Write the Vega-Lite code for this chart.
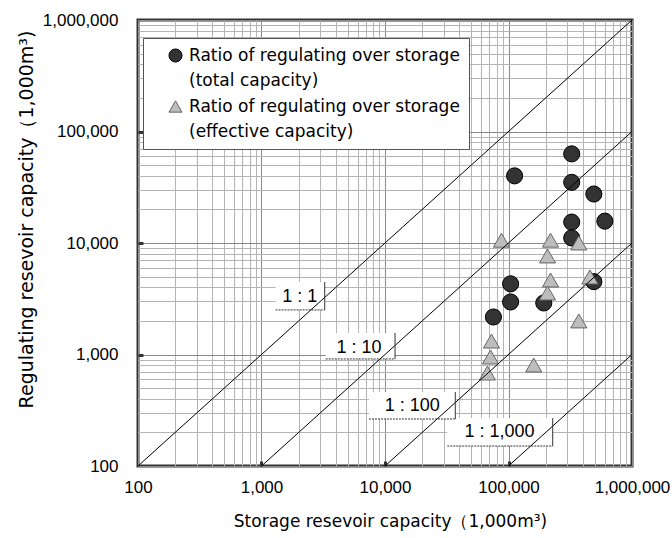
{
  "$schema": "https://vega.github.io/schema/vega-lite/v6.json",
  "width": 494,
  "height": 446,
  "autosize": {"type": "none"},
  "padding": {"left": 138, "top": 20, "right": 40, "bottom": 72},
  "background": "white",
  "config": {
    "view": {"stroke": "#333", "strokeWidth": 3},
    "style": {"guide-label": {"lineHeight": 25}},
    "axis": {
      "domain": false,
      "grid": true,
      "gridWidth": 1,
      "labelFont": "Liberation Sans",
      "labelFontSize": 17,
      "labelColor": "#000",
      "titleFont": "DejaVu Sans",
      "titleFontWeight": "normal",
      "titleColor": "#000",
      "labelOverlap": false,
      "labelFlush": false,
      "tickSize": -5,
      "tickWidth": 3,
      "tickColor": "#333"
    },
    "legend": {
      "orient": "none",
      "legendX": 5,
      "legendY": 18,
      "padding": 9,
      "fillColor": "white",
      "strokeColor": "#555",
      "symbolSize": 170,
      "symbolOffset": 15,
      "labelOffset": 5,
      "labelFont": "DejaVu Sans",
      "labelFontSize": 17,
      "labelColor": "#000",
      "labelLimit": 500,
      "rowPadding": 8,
      "symbolStrokeWidth": 1
    }
  },
  "datasets": {
    "points": [
      {"storage": 325000, "regulating": 63000, "series": "total"},
      {"storage": 112000, "regulating": 40000, "series": "total"},
      {"storage": 325000, "regulating": 35000, "series": "total"},
      {"storage": 491000, "regulating": 27500, "series": "total"},
      {"storage": 603000, "regulating": 15700, "series": "total"},
      {"storage": 325000, "regulating": 15400, "series": "total"},
      {"storage": 325000, "regulating": 11100, "series": "total"},
      {"storage": 491000, "regulating": 4500, "series": "total"},
      {"storage": 104000, "regulating": 4300, "series": "total"},
      {"storage": 104000, "regulating": 2960, "series": "total"},
      {"storage": 193000, "regulating": 2900, "series": "total"},
      {"storage": 75500, "regulating": 2170, "series": "total"},
      {"storage": 87700, "regulating": 10600, "series": "effective"},
      {"storage": 219000, "regulating": 10600, "series": "effective"},
      {"storage": 207000, "regulating": 7650, "series": "effective"},
      {"storage": 371000, "regulating": 10000, "series": "effective"},
      {"storage": 219000, "regulating": 4660, "series": "effective"},
      {"storage": 456000, "regulating": 4960, "series": "effective"},
      {"storage": 207000, "regulating": 3560, "series": "effective"},
      {"storage": 371000, "regulating": 2000, "series": "effective"},
      {"storage": 72800, "regulating": 1320, "series": "effective"},
      {"storage": 71500, "regulating": 950, "series": "effective"},
      {"storage": 67500, "regulating": 682, "series": "effective"},
      {"storage": 160000, "regulating": 805, "series": "effective"}
    ],
    "lines": [
      {"ratio": "1:1", "storage": 100, "regulating": 100},
      {"ratio": "1:1", "storage": 1000000, "regulating": 1000000},
      {"ratio": "1:10", "storage": 1000, "regulating": 100},
      {"ratio": "1:10", "storage": 1000000, "regulating": 100000},
      {"ratio": "1:100", "storage": 10000, "regulating": 100},
      {"ratio": "1:100", "storage": 1000000, "regulating": 10000},
      {"ratio": "1:1000", "storage": 100000, "regulating": 100},
      {"ratio": "1:1000", "storage": 1000000, "regulating": 1000}
    ],
    "labels": [
      {"label": "1 : 1", "x1": 1300, "x2": 3250, "y1": 4470, "y2": 2510, "tx": 2040, "ty": 3280},
      {"label": "1 : 10", "x1": 3310, "x2": 12060, "y1": 1560, "y2": 912, "tx": 6150, "ty": 1143},
      {"label": "1 : 100", "x1": 7410, "x2": 37070, "y1": 461, "y2": 264, "tx": 16590, "ty": 345},
      {"label": "1 : 1,000", "x1": 31920, "x2": 228000, "y1": 269, "y2": 151, "tx": 84500, "ty": 202}
    ]
  },
  "layer": [
    {
      "data": {"name": "labels"},
      "mark": {"type": "rect", "fill": "white", "stroke": null},
      "encoding": {
        "x": {"field": "x1", "type": "quantitative", "scale": {"type": "log", "domain": [100, 1000000]},
          "axis": {
            "values": [100,200,300,400,500,600,700,800,900,1000,2000,3000,4000,5000,6000,7000,8000,9000,10000,20000,30000,40000,50000,60000,70000,80000,90000,100000,200000,300000,400000,500000,600000,700000,800000,900000,1000000],
            "labelExpr": "indexof([100,1000,10000,100000,1000000], datum.value) >= 0 ? format(datum.value, ',') : ''",
            "tickOpacity": {"condition": {"test": "indexof([1000,10000,100000], datum.value) >= 0", "value": 1}, "value": 0},
            "gridColor": {"condition": {"test": "indexof([100,1000,10000,100000,1000000], datum.value) >= 0", "value": "#8a8a8a"}, "value": "#b4b4b4"},
            "title": "Storage resevoir capacity（1,000m³)",
            "titleFontSize": 17,
            "titleX": 252,
            "titleY": 60,
            "titleAlign": "center",
            "titleBaseline": "alphabetic",
            "labelPadding": 18
          }},
        "x2": {"field": "x2"},
        "y": {"field": "y1", "type": "quantitative", "scale": {"type": "log", "domain": [100, 1000000]},
          "axis": {
            "values": [100,200,300,400,500,600,700,800,900,1000,2000,3000,4000,5000,6000,7000,8000,9000,10000,20000,30000,40000,50000,60000,70000,80000,90000,100000,200000,300000,400000,500000,600000,700000,800000,900000,1000000],
            "labelExpr": "indexof([100,1000,10000,100000,1000000], datum.value) >= 0 ? format(datum.value, ',') : ''",
            "tickOpacity": {"condition": {"test": "indexof([1000,10000,100000], datum.value) >= 0", "value": 1}, "value": 0},
            "gridColor": {"condition": {"test": "indexof([100,1000,10000,100000,1000000], datum.value) >= 0", "value": "#8a8a8a"}, "value": "#b4b4b4"},
            "title": "Regulating resevoir capacity（1,000m³)",
            "titleFontSize": 19,
            "titleAngle": -90,
            "titleX": -106,
            "titleY": 199,
            "titleAlign": "center",
            "titleBaseline": "alphabetic",
            "labelPadding": 25
          }},
        "y2": {"field": "y2"}
      }
    },
    {
      "data": {"name": "points"},
      "mark": {"type": "point", "filled": true, "size": 260, "opacity": 1, "strokeWidth": 1},
      "encoding": {
        "x": {"field": "storage", "type": "quantitative", "scale": {"type": "log", "domain": [100, 1000000]}},
        "y": {"field": "regulating", "type": "quantitative", "scale": {"type": "log", "domain": [100, 1000000]}},
        "shape": {"field": "series", "type": "nominal",
          "scale": {"domain": ["total", "effective"], "range": ["circle", "triangle-up"]},
          "legend": {"title": null, "labelExpr": "datum.label == 'total' ? ['Ratio of regulating over storage', '(total capacity)'] : ['Ratio of regulating over storage', '(effective capacity)']"}},
        "fill": {"field": "series", "type": "nominal",
          "scale": {"domain": ["total", "effective"], "range": ["#333333", "#bdbdbd"]},
          "legend": {"title": null, "labelExpr": "datum.label == 'total' ? ['Ratio of regulating over storage', '(total capacity)'] : ['Ratio of regulating over storage', '(effective capacity)']"}},
        "stroke": {"field": "series", "type": "nominal",
          "scale": {"domain": ["total", "effective"], "range": ["#000000", "#666666"]},
          "legend": {"title": null, "labelExpr": "datum.label == 'total' ? ['Ratio of regulating over storage', '(total capacity)'] : ['Ratio of regulating over storage', '(effective capacity)']"}}
      }
    },
    {
      "data": {"name": "lines"},
      "mark": {"type": "line", "color": "#000", "strokeWidth": 1},
      "encoding": {
        "x": {"field": "storage", "type": "quantitative", "scale": {"type": "log", "domain": [100, 1000000]}},
        "y": {"field": "regulating", "type": "quantitative", "scale": {"type": "log", "domain": [100, 1000000]}},
        "detail": {"field": "ratio", "type": "nominal"}
      }
    },
    {
      "data": {"name": "labels"},
      "mark": {"type": "rule", "color": "#333", "strokeWidth": 1},
      "encoding": {
        "x": {"field": "x2", "type": "quantitative", "scale": {"type": "log", "domain": [100, 1000000]}},
        "y": {"field": "y1", "type": "quantitative", "scale": {"type": "log", "domain": [100, 1000000]}},
        "y2": {"field": "y2"}
      }
    },
    {
      "data": {"name": "labels"},
      "mark": {"type": "rule", "color": "#333", "strokeWidth": 1, "strokeDash": [2, 1]},
      "encoding": {
        "x": {"field": "x1", "type": "quantitative", "scale": {"type": "log", "domain": [100, 1000000]}},
        "x2": {"field": "x2"},
        "y": {"field": "y2", "type": "quantitative", "scale": {"type": "log", "domain": [100, 1000000]}}
      }
    },
    {
      "data": {"name": "labels"},
      "mark": {"type": "text", "font": "Liberation Sans", "fontSize": 18, "color": "#000", "align": "center", "baseline": "middle"},
      "encoding": {
        "x": {"field": "tx", "type": "quantitative", "scale": {"type": "log", "domain": [100, 1000000]}},
        "y": {"field": "ty", "type": "quantitative", "scale": {"type": "log", "domain": [100, 1000000]}},
        "text": {"field": "label"}
      }
    }
  ]
}
